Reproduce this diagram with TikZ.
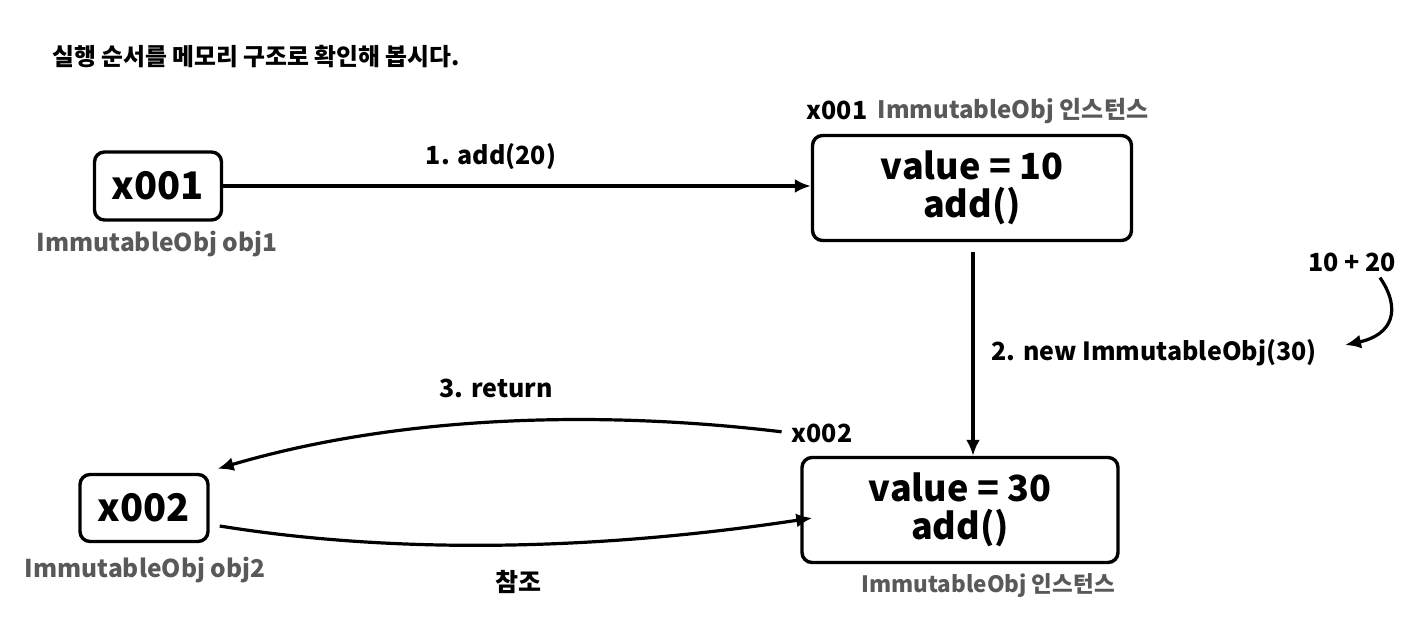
\documentclass[tikz,border=0pt]{standalone}
\usepackage{fontspec}
\setmainfont{Noto Sans CJK KR}
\usepackage{xcolor}
\usepackage{tikz}
\usetikzlibrary{positioning,calc,arrows.meta}

\definecolor{labelgray}{HTML}{595959}

\begin{document}
\begin{tikzpicture}[x=1pt,y=-1pt,
    refbox/.style={draw, line width=3.4pt, rounded corners=10pt, inner sep=0pt,
        font=\fontsize{38}{40}\selectfont\bfseries},
    instbox/.style={draw, line width=3.4pt, rounded corners=10pt, inner sep=0pt,
        align=center, font=\fontsize{36}{38}\selectfont\bfseries},
    graytxt/.style={text=labelgray, inner sep=0pt, font=\fontsize{24.5}{26}\selectfont\bfseries},
    steptxt/.style={inner sep=0pt, font=\fontsize{25}{27}\selectfont\bfseries},
    arr/.style={line width=3.2pt, -{Latex[length=16pt,width=14pt]}}]
    \useasboundingbox (0,0) rectangle (1420,644);

    % title
    \node[steptxt, anchor=west, font=\fontsize{23.8}{25}\selectfont\bfseries] (title) at (52,57) {실행 순서를 메모리 구조로 확인해 봅시다.};

    % references on the left
    \node[refbox, minimum width=127pt, minimum height=68pt] (obj1) at (158,186) {x001};
    \node[graytxt] (obj1lbl) at (157,244) {ImmutableObj obj1};
    \node[refbox, minimum width=128pt, minimum height=67pt] (obj2) at (144,508) {x002};
    \node[graytxt] (obj2lbl) at (145,570) {ImmutableObj obj2};

    % instances on the right
    \node[instbox, minimum width=319pt, minimum height=105pt] (inst1) at (972,188) {value = 10\\add()};
    \node[steptxt] (addr1) at (837,110) {x001};
    \node[graytxt, font=\fontsize{24}{26}\selectfont\bfseries] (inst1lbl) at (1013,111) {ImmutableObj 인스턴스};
    \node[instbox, minimum width=316pt, minimum height=105pt] (inst2) at (960,510) {value = 30\\add()};
    \node[graytxt, font=\fontsize{22.5}{24}\selectfont\bfseries] (inst2lbl) at (988,585) {ImmutableObj 인스턴스};

    % step labels
    \node[steptxt] (call) at (491,157) {1. add(20)};
    \node[steptxt] (create) at (1154,353) {2. new ImmutableObj(30)};
    \node[steptxt] (sum) at (1352,262) {10 + 20};
    \node[steptxt] (ret) at (496,388) {3. return};
    \node[steptxt] (addr2) at (822,433) {x002};
    \node[steptxt] (refer) at (518,582) {참조};
    \coordinate (sumtip) at (1345,345);

    % connectors
    \draw[arr] (obj1.east) -- (obj1.east -| inst1.west);
    \draw[arr, shorten <=10pt] (inst1.south -| 973,0) -- (inst2.north -| 973,0);
    \draw[arr] ($(sum.south east)+(-16,6)$) .. controls (1402,310) and (1392,335) .. (sumtip);
    \draw[arr, shorten <=10pt] (addr2.west) .. controls (600,410) and (400,415) .. ($(obj2.north east)+(8,-4)$);
    \draw[arr] ($(obj2.east)+(10,18)$) .. controls (400,555) and (600,550) .. ($(inst2.west)+(12,8)$);
\end{tikzpicture}
\end{document}
